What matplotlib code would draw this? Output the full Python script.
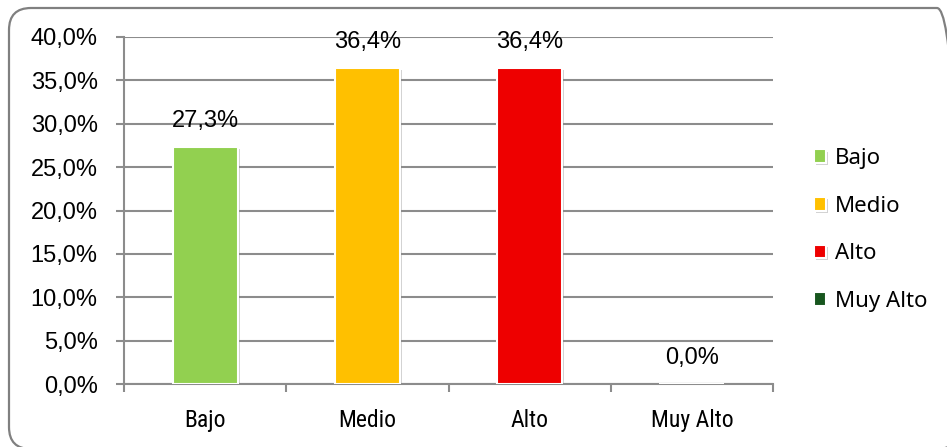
import matplotlib.pyplot as plt
from matplotlib.patches import FancyBboxPatch
from matplotlib.ticker import FuncFormatter, FixedLocator
import matplotlib.patheffects as pe

# Data
categories = ['Bajo', 'Medio', 'Alto', 'Muy Alto']
values = [27.3, 36.4, 36.4, 0.0]
colors = ['#92D050', '#FFC000', '#EE0000', '#17561E']

num_font = ['Liberation Sans', 'DejaVu Sans']
cat_font = ['Roboto Condensed', 'Liberation Sans', 'DejaVu Sans']
leg_font = ['Noto Sans', 'DejaVu Sans']

fig = plt.figure(figsize=(9.47, 4.47), dpi=100)
ax = fig.add_axes([124 / 947, 63 / 447, 649 / 947, 347 / 447])

x = range(len(categories))
shadow = [pe.SimplePatchShadow(offset=(1.5, -1.5), shadow_rgbFace='gray', alpha=0.35), pe.Normal()]
for i, (cat, val, col) in enumerate(zip(categories, values, colors)):
    bars = ax.bar(i, val, width=0.4, color=col, edgecolor='white', linewidth=1.5,
                  label=cat, zorder=3)
    if val > 0:
        for b in bars:
            b.set_path_effects(shadow)
    ax.annotate(f'{val:.1f}%'.replace('.', ','), (i, val), xytext=(0, 19),
                textcoords='offset points', ha='center', va='center',
                fontsize=17, family=num_font, zorder=4)

# Axes styling
ax.set_ylim(0, 40)
ax.set_xlim(-0.5, 3.5)
ax.set_yticks([0, 5, 10, 15, 20, 25, 30, 35, 40])
ax.yaxis.set_major_formatter(FuncFormatter(lambda v, p: f'{v:.1f}%'.replace('.', ',')))
ax.grid(axis='y', color='#8c8c8c', linewidth=1.5, zorder=0)
ax.set_axisbelow(True)

for s in ['top', 'right']:
    ax.spines[s].set_visible(False)
for s in ['left', 'bottom']:
    ax.spines[s].set_color('#8c8c8c')
    ax.spines[s].set_linewidth(1.5)

ax.tick_params(axis='y', length=6, width=1.5, color='#8c8c8c', pad=13,
               labelsize=17)
for lbl in ax.get_yticklabels():
    lbl.set_family(num_font)

ax.set_xticks(list(x))
ax.set_xticklabels(categories, family=cat_font, fontsize=17)
ax.tick_params(axis='x', which='major', length=0, pad=18)
ax.xaxis.set_minor_locator(FixedLocator([-0.5, 0.5, 1.5, 2.5, 3.5]))
ax.tick_params(axis='x', which='minor', length=6, width=1.5, color='#8c8c8c')

# Legend
fig.legend(loc='center left', bbox_to_anchor=(814 / 947, (447 - 230) / 447),
           frameon=False, borderaxespad=0, borderpad=0,
           handlelength=0.55, handleheight=0.55, handletextpad=0.4,
           labelspacing=1.2, prop={'family': leg_font, 'size': 16})

# Rounded border
fig.patches.append(FancyBboxPatch((9, -2), 950, 441, boxstyle='round,pad=0,rounding_size=22',
                                  transform=None, facecolor='none',
                                  edgecolor='#808080', linewidth=1.6))

fig.savefig('out.png', dpi=100)
